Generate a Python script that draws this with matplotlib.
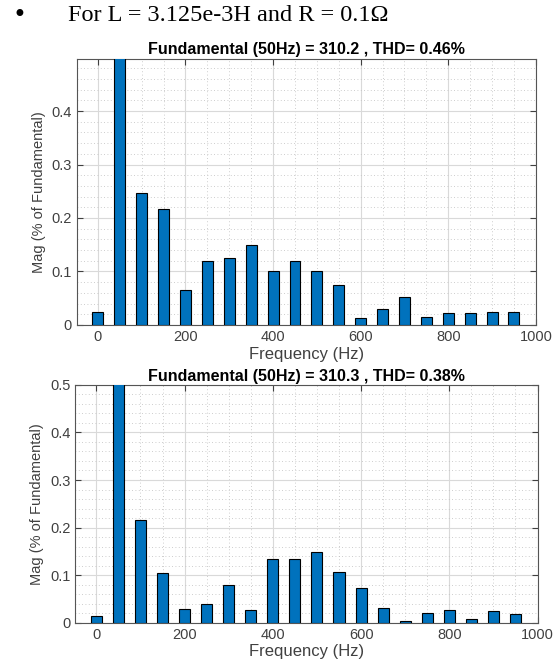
import numpy as np
import matplotlib
matplotlib.use("Agg")
import matplotlib.pyplot as plt
from matplotlib.ticker import MultipleLocator

plt.rcParams['font.family'] = ['Liberation Sans', 'DejaVu Sans']

# harmonic frequencies (Hz)
freqs = np.arange(0, 1000, 50)

# case 1 : THD 0.46%
mag_top = [0.025, 100.0, 0.246, 0.217, 0.066, 0.120, 0.125, 0.149, 0.100, 0.120,
           0.100, 0.074, 0.013, 0.029, 0.0525, 0.014, 0.0225, 0.0225, 0.024, 0.024]
# case 2 : THD 0.38%
mag_bot = [0.0147, 100.0, 0.216, 0.104, 0.029, 0.039, 0.080, 0.027, 0.134, 0.135,
           0.149, 0.107, 0.074, 0.030, 0.004, 0.020, 0.027, 0.007, 0.0245, 0.018]

title_top = "Fundamental (50Hz) = 310.2 , THD= 0.46%"
title_bot = "Fundamental (50Hz) = 310.3 , THD= 0.38%"
heading = "For L = 3.125e-3H and R = 0.1\u03a9"

bar_color = "#0072BD"
txt_gray = "#404040"

fig = plt.figure(figsize=(5.53, 6.59), dpi=100)

fig.text(0.022, 0.977, "\u2022", fontsize=17, family="DejaVu Sans", va="center")
fig.text(0.123, 0.977, heading, fontsize=17.5, family="Liberation Serif", va="center")


def draw_panel(ax, mags, title, ytop, yticks):
    ax.bar(freqs, mags, width=25, color=bar_color, edgecolor="black", linewidth=0.8, zorder=3)
    ax.set_xlim(-48, 1000)
    ax.set_ylim(0, ytop)
    ax.set_xticks([0, 200, 400, 600, 800, 1000])
    ax.set_yticks(yticks)
    ax.set_yticklabels([("%g" % t) for t in yticks])
    ax.xaxis.set_minor_locator(MultipleLocator(50))
    ax.yaxis.set_minor_locator(MultipleLocator(0.02))
    ax.grid(which="major", color="#d9d9d9", linewidth=0.8, zorder=0)
    ax.grid(which="minor", color="#bdbdbd", linewidth=0.6, linestyle=(0, (1, 3)), zorder=0)
    ax.tick_params(which="both", direction="in", top=True, right=True, colors=txt_gray,
                   labelsize=10.5, labelcolor=txt_gray)
    ax.tick_params(which="major", length=4)
    ax.tick_params(which="minor", length=0)
    for s in ax.spines.values():
        s.set_color("#555555")
        s.set_linewidth(0.8)
    ax.set_title(title, fontsize=11.5, fontweight="bold", pad=3)
    ax.set_xlabel("Frequency (Hz)", fontsize=12, color=txt_gray, labelpad=2)
    ax.set_ylabel("Mag (% of Fundamental)", fontsize=10.5, color=txt_gray, labelpad=4)
    ax.set_axisbelow(True)


ax1 = fig.add_axes([0.139, 0.507, 0.830, 0.404])
draw_panel(ax1, mag_top, title_top, 0.498, [0, 0.1, 0.2, 0.3, 0.4])

ax2 = fig.add_axes([0.136, 0.055, 0.836, 0.361])
draw_panel(ax2, mag_bot, title_bot, 0.5, [0, 0.1, 0.2, 0.3, 0.4, 0.5])

fig.savefig("out.png", dpi=100)
